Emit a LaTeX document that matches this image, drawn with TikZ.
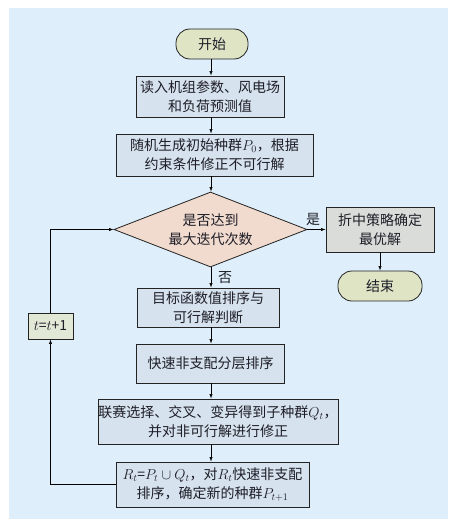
\documentclass[tikz,border=0pt]{standalone}
\usepackage{fontspec}
\setmainfont{Noto Sans CJK SC}
\usetikzlibrary{shapes.geometric,arrows.meta}
\definecolor{bgblue}{RGB}{222,238,250}
\definecolor{termfill}{RGB}{222,228,196}
\definecolor{procfill}{RGB}{214,226,237}
\definecolor{diafill}{RGB}{241,219,206}
\definecolor{optfill}{RGB}{217,220,216}
\definecolor{incfill}{RGB}{226,232,214}
\definecolor{edge}{RGB}{35,35,35}
\definecolor{txt}{RGB}{30,30,40}
\begin{document}
\begin{tikzpicture}[x=1pt,y=-1pt,
  base/.style={draw=edge,line width=0.8pt,inner sep=0pt,align=center,text=txt,
    font=\fontsize{14}{19}\selectfont},
  term/.style={base,fill=termfill,rounded corners=14pt,minimum width=72pt,minimum height=30pt},
  proc/.style={base,fill=procfill,minimum height=41pt},
  decis/.style={base,shape=diamond,fill=diafill,aspect=2.57,minimum width=193pt,minimum height=75pt},
  optbox/.style={base,fill=optfill,minimum width=108pt,minimum height=45pt},
  incbox/.style={base,fill=incfill,minimum width=45pt,minimum height=26pt},
  lab/.style={inner sep=0pt,text=txt,font=\fontsize{14}{19}\selectfont},
  conn/.style={draw=black,line width=0.6pt,-{Latex[length=4.5pt,width=3.2pt]}},
  link/.style={draw=black,line width=0.6pt}
]
\useasboundingbox (0,0) rectangle (448,519);
\fill[bgblue] (9,8) rectangle (448,519);

\node[term] (start) at (212,44) {开始};
\node[proc,minimum width=148pt] (b1) at (210,96.5) {读入机组参数、风电场\\和负荷预测值};
\node[proc,minimum width=197pt,minimum height=42pt] (b2) at (214.5,155) {随机生成初始种群$P_0$，根据\\约束条件修正不可行解};
\node[decis] (dia) at (210.5,229.5) {是否达到\\最大迭代次数};
\node[optbox] (opt) at (380,229.5) {折中策略确定\\最优解};
\node[term,minimum width=84pt] (end) at (380,286) {结束};
\node[proc,minimum width=142pt,minimum height=39pt] (b3) at (208,307.5) {目标函数值排序与\\可行解判断};
\node[incbox] (inc) at (50.5,326) {$t$=$t$+1};
\node[proc,minimum width=148pt,minimum height=39pt] (b4) at (210.5,363.5) {快速非支配分层排序};
\node[proc,minimum width=240pt,minimum height=45pt] (b5) at (218,421.5) {联赛选择、交叉、变异得到子种群$Q_t$，\\并对非可行解进行修正};
\node[proc,minimum width=193pt,minimum height=45pt] (b6) at (212.5,484.5) {$R_t$=$P_t\cup Q_t$，对$R_t$快速非支配\\排序，确定新的种群$P_{t+1}$};

\node[lab] (yes) at (313,219) {是};
\node[lab] (no) at (225,278) {否};

\coordinate (col) at (211,0);
\draw[conn] (start.south -| col) -- (b1.north -| col);
\draw[conn] (b1.south -| col) -- (b2.north -| col);
\draw[conn] (b2.south -| col) -- (dia.north -| col);
\draw[conn] (dia.south -| col) -- (b3.north -| col);
\draw[conn] (b3.south -| col) -- (b4.north -| col);
\draw[conn] (b4.south -| col) -- (b5.north -| col);
\draw[conn] (b5.south -| col) -- (b6.north -| col);
\draw[conn] (dia.east) -- (opt.west);
\draw[conn] (opt.south) -- (end.north);
\draw[conn] (b6.west) -| (inc.south);
\draw[conn] (inc.north) |- (dia.west);
\end{tikzpicture}
\end{document}
